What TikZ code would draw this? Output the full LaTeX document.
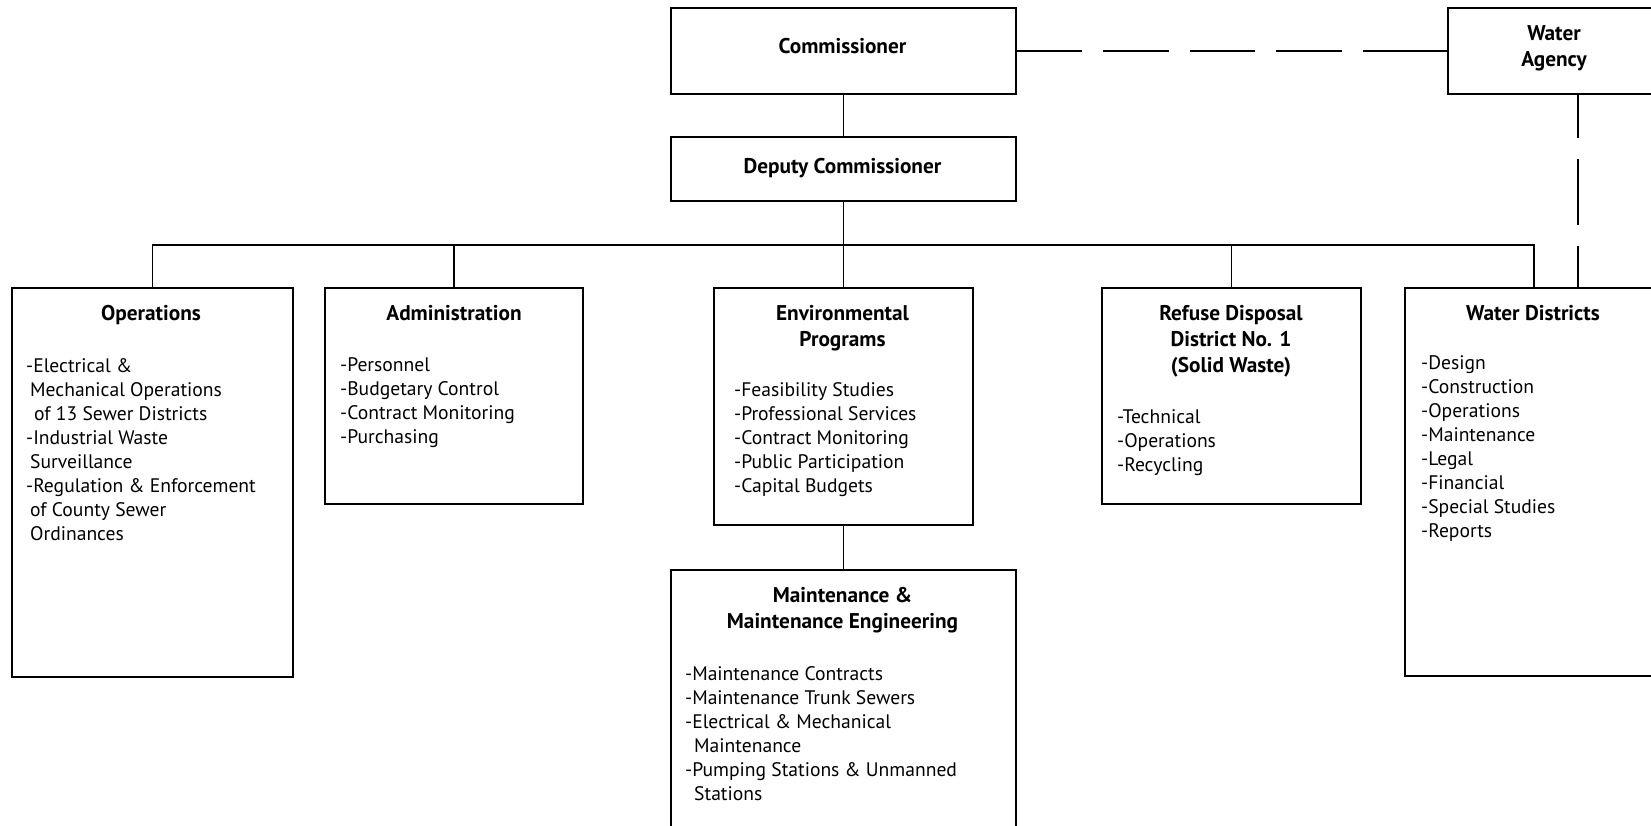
\documentclass[tikz,border=0pt]{standalone}
\usepackage{fontspec}
\setmainfont{PT Sans}
\usetikzlibrary{positioning}

\begin{document}
\begin{tikzpicture}[x=1pt,y=-1pt,
    box/.style={draw,line width=1.8pt,inner sep=0pt,anchor=north west},
    head/.style={font=\fontsize{21.3}{26}\selectfont\bfseries,align=center,anchor=base,inner sep=0pt},
    items/.style={font=\fontsize{19.6}{24}\selectfont,align=left,anchor=base west,inner sep=0pt},
    link/.style={line width=1.8pt},
    dashlink/.style={line width=1.8pt,dash pattern=on 65.5pt off 21pt}]

    % Frame
    \useasboundingbox (0,0) rectangle (1651,826);
    \clip (0,0) rectangle (1651,826);

    % Top boxes (text nodes sit on the baseline of their last line)
    \node[box,minimum width=345pt,minimum height=86pt] (comm) at (670,7) {};
    \node[head] (commtxt) at (842.5,54) {Commissioner};
    \node[box,minimum width=345pt,minimum height=64pt] (deputy) at (670,136) {};
    \node[head] (deputytxt) at (842.5,174) {Deputy Commissioner};
    \node[box,minimum width=214pt,minimum height=86pt] (wagency) at (1447,7) {};
    \node[head] (wagencytxt) at (1554,67) {Water\\Agency};

    % Division boxes
    \node[box,minimum width=281pt,minimum height=389pt] (ops) at (11,287) {};
    \node[head] (opstxt) at (151,320) {Operations};
    \node[items] (opslist) at (26,540) {-Electrical \&\\\hspace{4pt}Mechanical Operations\\\hspace{8pt}of 13 Sewer Districts\\-Industrial Waste\\\hspace{4pt}Surveillance\\-Regulation \& Enforcement\\\hspace{4pt}of County Sewer\\\hspace{4pt}Ordinances};

    \node[box,minimum width=258pt,minimum height=216pt] (admin) at (324,287) {};
    \node[head] (admintxt) at (454,320) {Administration};
    \node[items] (adminlist) at (340,443) {-Personnel\\-Budgetary Control\\-Contract Monitoring\\-Purchasing};

    \node[box,minimum width=259pt,minimum height=237pt] (env) at (713,287) {};
    \node[head] (envtxt) at (842.5,346) {Environmental\\Programs};
    \node[items] (envlist) at (734,492) {-Feasibility Studies\\-Professional Services\\-Contract Monitoring\\-Public Participation\\-Capital Budgets};

    \node[box,minimum width=259pt,minimum height=216pt] (refuse) at (1101,287) {};
    \node[head] (refusetxt) at (1231,372) {Refuse Disposal\\District No. 1\\(Solid Waste)};
    \node[items] (refuselist) at (1117,471) {-Technical\\-Operations\\-Recycling};

    \node[box,minimum width=258pt,minimum height=388pt] (wdist) at (1404,287) {};
    \node[head] (wdisttxt) at (1533,320) {Water Districts};
    \node[items] (wdistlist) at (1421,537) {-Design\\-Construction\\-Operations\\-Maintenance\\-Legal\\-Financial\\-Special Studies\\-Reports};

    \node[box,minimum width=345pt,minimum height=280pt] (maint) at (670,569) {};
    \node[head] (mainttxt) at (842.5,628) {Maintenance \&\\Maintenance Engineering};
    \node[items] (maintlist) at (685,800) {-Maintenance Contracts\\-Maintenance Trunk Sewers\\-Electrical \& Mechanical\\\hspace{9pt}Maintenance\\-Pumping Stations \& Unmanned\\\hspace{9pt}Stations};

    % Connectors
    \coordinate (bus) at (0,245);
    \draw[link] (comm) -- (deputy);
    \draw[link] (deputy) -- (env);
    \draw[link] (ops.north) -- (ops.north |- bus) -| (wdist.north);
    \draw[link] (admin.north) -- (admin.north |- bus);
    \draw[link] (refuse.north) -- (refuse.north |- bus);
    \draw[link] (env) -- (maint);

    % Water Agency links
    \draw[dashlink,dash pattern=on 65.5pt off 21pt on 65.5pt off 21pt on 65.5pt off 21pt on 65.5pt off 21pt on 90pt off 10pt] (comm.east) -- (wagency.west);
    \draw[dashlink,dash phase=22pt] ([xshift=23pt]wagency.south) -- ([xshift=23pt]wagency.south |- wdist.north);
\end{tikzpicture}
\end{document}
